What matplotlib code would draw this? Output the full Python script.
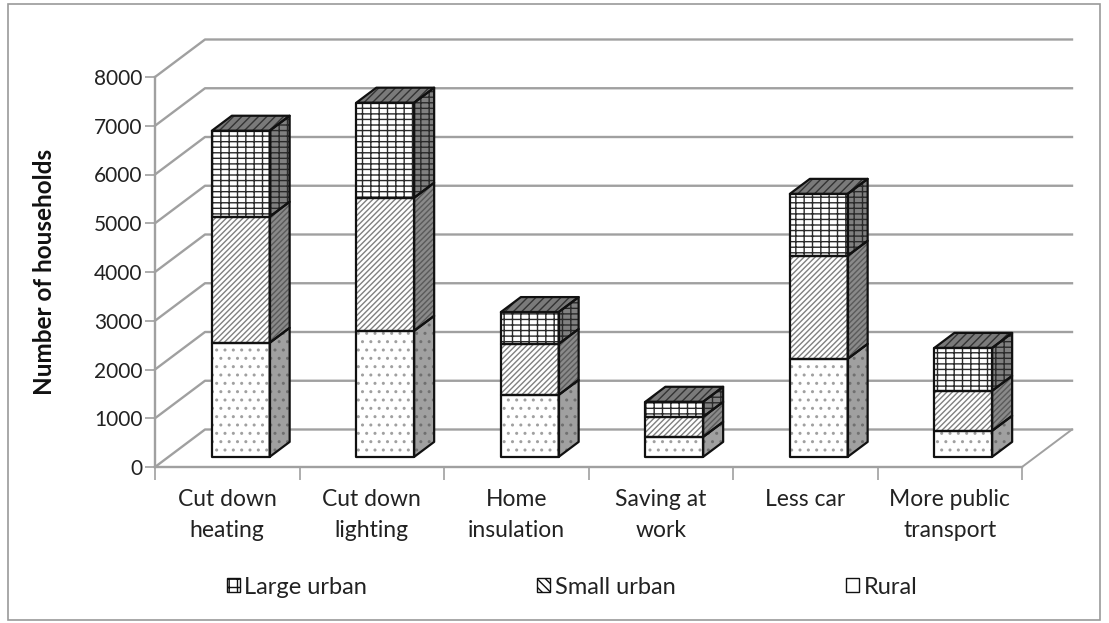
import matplotlib
matplotlib.use('Agg')
import matplotlib.pyplot as plt
from matplotlib.patches import Polygon, Patch, Rectangle

categories = ['Cut down\nheating', 'Cut down\nlighting', 'Home\ninsulation',
              'Saving at\nwork', 'Less car', 'More public\ntransport']
rural = [2340, 2585, 1270, 410, 2010, 535]
small_urban = [2585, 2730, 1045, 410, 2115, 820]
large_urban = [1765, 1950, 655, 310, 1270, 880]

plt.rcParams['font.family'] = ['Lato', 'DejaVu Sans']
plt.rcParams['hatch.linewidth'] = 1.0

W, H = 1109, 623
GRID = '#a0a0a0'
fig = plt.figure(figsize=(W / 100, H / 100), dpi=100)
# front plane of the fake 3d box, same place as the excel chart
ax = fig.add_axes([155 / W, (H - 467) / H, 867 / W, 390 / H])
ax.set_xlim(0, 6)
ax.set_ylim(0, 8000)
ax.patch.set_alpha(0)

DX = 50 / 144.5      # depth offset in category units
DY = 37.5 / 0.04875  # depth offset in value units


def proj(x, y, z):
    return x + z * DX, y + z * DY


# walls
for v in range(0, 9000, 1000):
    xs, ys = zip(proj(0, v, 0), proj(0, v, 1), proj(6, v, 1))
    ax.plot(xs, ys, color=GRID, lw=1.7, clip_on=False, zorder=1)
xs, ys = zip(proj(6, 0, 1), proj(6, 0, 0))
ax.plot(xs, ys, color=GRID, lw=1.4, clip_on=False, zorder=1)

# bars
Z0, Z1 = 0.27, 0.67
B_LEFT, B_RIGHT = 0.30, 0.70
series = [
    (rural, '..', '#ffffff', '#a0a0a0', '#a0a0a0', '#707070'),
    (small_urban, '//////', '#ffffff', '#8a8a8a', '#808080', '#5a5a5a'),
    (large_urban, '++-', '#ffffff', '#808080', '#2a2a2a', '#2a2a2a'),
]


def face(pts, fc, hatch, hc):
    ax.add_patch(Polygon(pts, closed=True, facecolor=fc, edgecolor=hc, hatch=hatch,
                         lw=0, clip_on=False, zorder=3))
    ax.add_patch(Polygon(pts, closed=True, facecolor='none', edgecolor='#111111',
                         lw=1.6, clip_on=False, zorder=4, joinstyle='round'))


for i in range(len(categories)):
    base = 0
    for values, hatch, front_c, side_c, hatch_c, side_h in series:
        top = base + values[i]
        l, r = i + B_LEFT, i + B_RIGHT
        face([proj(l, base, Z0), proj(r, base, Z0), proj(r, top, Z0), proj(l, top, Z0)],
             front_c, hatch, hatch_c)
        face([proj(r, base, Z0), proj(r, base, Z1), proj(r, top, Z1), proj(r, top, Z0)],
             side_c, hatch, side_h)
        base = top
    face([proj(l, base, Z0), proj(r, base, Z0), proj(r, base, Z1), proj(l, base, Z1)],
         '#7a7a7a', '////', '#333333')

# axes
for s in ['top', 'right']:
    ax.spines[s].set_visible(False)
for s in ['left', 'bottom']:
    ax.spines[s].set_color(GRID)
    ax.spines[s].set_linewidth(1.7)
ax.set_yticks(range(0, 9000, 1000))
ax.set_xticks(range(0, 7))
ax.set_xticklabels([])
ax.set_xticks([i + 0.5 for i in range(6)], minor=True)
ax.set_xticklabels(categories, minor=True, fontsize=16.5, color='#222222', linespacing=1.55)
ax.tick_params(axis='y', length=7, width=1.2, color=GRID, labelsize=15, labelcolor='#222222', pad=2)
ax.tick_params(axis='x', which='major', length=9, width=1.2, color=GRID)
ax.tick_params(axis='x', which='minor', length=0, pad=16)
ax.set_ylabel('Number of households', fontsize=17.5, fontweight='bold', labelpad=27, color='#111111')

# legend
handles = [Patch(facecolor='white', edgecolor='#111111', hatch='++', label='Large urban'),
           Patch(facecolor='white', edgecolor='#111111', hatch='\\\\\\\\', label='Small urban'),
           Patch(facecolor='white', edgecolor='#111111', label='Rural')]
fig.legend(handles=handles, loc='center', bbox_to_anchor=(572 / W, (H - 587) / H), ncol=3,
           frameon=False, fontsize=17, handlelength=0.55, handleheight=0.55,
           handletextpad=0.2, columnspacing=7.2, labelcolor='#222222')

# outer frame
fig.add_artist(Rectangle((8 / W, 3 / H), 1092 / W, 616 / H, transform=fig.transFigure,
                         facecolor='none', edgecolor='#9a9a9a', lw=1.2))

fig.savefig('out.png', dpi=100)
